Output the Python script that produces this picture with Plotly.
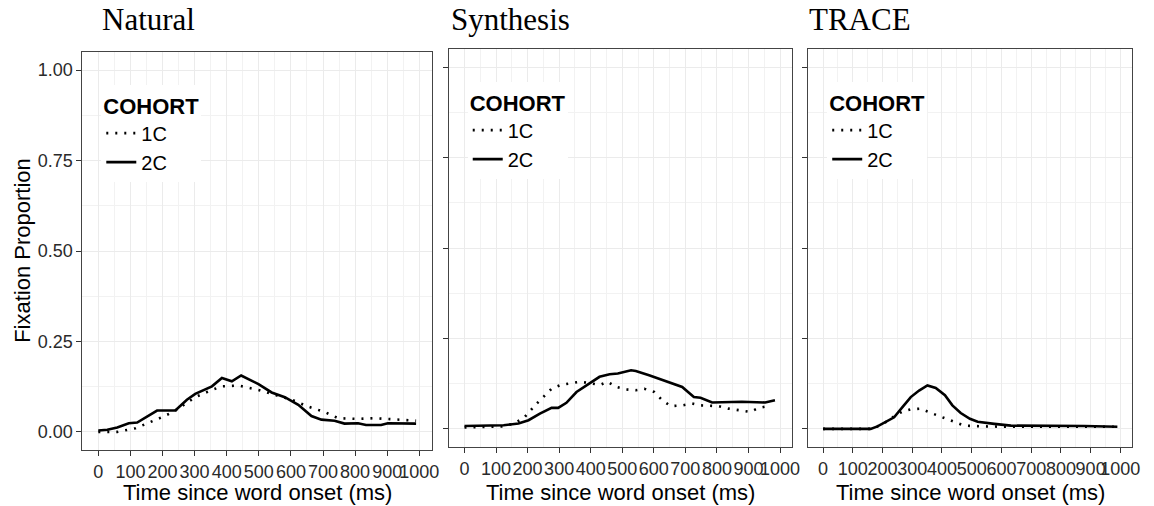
import plotly.graph_objects as go

W, H = 1154, 506

# ---------------- data ----------------
nat_2c_t = [0, 28, 59, 95, 121, 147, 183, 240, 276, 302, 354, 385, 416, 445, 499, 540, 581, 623, 664, 695, 736, 767, 809, 834, 881, 902, 933, 990]
nat_2c_y = [0.004, 0.006, 0.012, 0.024, 0.026, 0.040, 0.059, 0.059, 0.089, 0.105, 0.126, 0.149, 0.140, 0.156, 0.132, 0.109, 0.096, 0.075, 0.044, 0.034, 0.031, 0.023, 0.024, 0.019, 0.019, 0.024, 0.023, 0.023]
nat_1c_t = [0, 59, 116, 168, 199, 235, 302, 354, 385, 437, 499, 540, 602, 654, 705, 747, 809, 860, 912, 990]
nat_1c_y = [0.0, 0.0, 0.010, 0.029, 0.041, 0.056, 0.096, 0.116, 0.126, 0.128, 0.116, 0.105, 0.089, 0.070, 0.055, 0.038, 0.036, 0.038, 0.036, 0.031]

syn_2c_t = [0, 50, 124, 171, 203, 239, 276, 297, 323, 355, 397, 428, 460, 486, 528, 543, 585, 638, 690, 727, 748, 785, 837, 879, 953, 984]
syn_2c_y = [0.008, 0.008, 0.010, 0.015, 0.024, 0.042, 0.058, 0.058, 0.072, 0.102, 0.125, 0.144, 0.151, 0.153, 0.162, 0.160, 0.148, 0.132, 0.116, 0.088, 0.086, 0.073, 0.075, 0.075, 0.073, 0.079]
syn_1c_t = [0, 30, 124, 155, 187, 229, 250, 276, 307, 334, 365, 397, 428, 454, 481, 512, 543, 570, 601, 627, 654, 690, 722, 748, 806, 837, 874, 906, 932, 963]
syn_1c_y = [0.004, 0.005, 0.007, 0.015, 0.029, 0.070, 0.088, 0.111, 0.122, 0.125, 0.130, 0.127, 0.121, 0.130, 0.116, 0.109, 0.107, 0.111, 0.102, 0.079, 0.063, 0.065, 0.070, 0.065, 0.063, 0.056, 0.052, 0.047, 0.058, 0.063]

tra_2c_t = [0, 160, 183, 211, 239, 267, 295, 323, 351, 379, 410, 435, 463, 494, 520, 576, 632, 879, 990]
tra_2c_y = [0.0, 0.0, 0.007, 0.019, 0.032, 0.060, 0.088, 0.106, 0.120, 0.113, 0.093, 0.065, 0.044, 0.028, 0.020, 0.014, 0.009, 0.008, 0.006]
tra_1c_t = [0, 160, 183, 211, 239, 267, 295, 329, 357, 391, 430, 475, 542, 621, 990]
tra_1c_y = [0.0, 0.0, 0.007, 0.019, 0.035, 0.048, 0.054, 0.056, 0.046, 0.035, 0.023, 0.009, 0.007, 0.006, 0.006]

panel_titles = ["Natural", "Synthesis", "TRACE"]
x_ticks = list(range(0, 1001, 100))
y_ticks = [0.0, 0.25, 0.5, 0.75, 1.0]
y_ticklabels = ["0.00", "0.25", "0.50", "0.75", "1.00"]
legend_title = "COHORT"

series = [
    (nat_1c_t, nat_1c_y, nat_2c_t, nat_2c_y),
    (syn_1c_t, syn_1c_y, syn_2c_t, syn_2c_y),
    (tra_1c_t, tra_1c_y, tra_2c_t, tra_2c_y),
]

# panel boxes in pixels: (left, right, top, bottom)
boxes = [(83, 435, 52, 450), (452, 798, 49, 447), (814, 1140, 49, 447)]
title_left = [101, 452, 813]

fig = go.Figure()
FONT = "Liberation Sans, Arial, sans-serif"
DOT = "2px,7px"

for i, (t1, y1, t2, y2) in enumerate(series):
    ax = "" if i == 0 else str(i + 1)
    leg = "legend" if i == 0 else f"legend{i + 1}"
    fig.add_trace(go.Scatter(x=t1, y=y1, mode="lines", name="1C",
                             line=dict(color="black", width=2.6, dash=DOT),
                             xaxis="x" + ax, yaxis="y" + ax, legend=leg))
    fig.add_trace(go.Scatter(x=t2, y=y2, mode="lines", name="2C",
                             line=dict(color="black", width=2.6),
                             xaxis="x" + ax, yaxis="y" + ax, legend=leg))

layout = dict(width=W, height=H, margin=dict(l=0, r=0, t=0, b=0),
              paper_bgcolor="white", plot_bgcolor="white",
              font=dict(family=FONT, color="#333333"), annotations=[])

for i, (l, r, t, b) in enumerate(boxes):
    ax = "" if i == 0 else str(i + 1)
    xa = dict(domain=[l / W, r / W], range=[-49.5, 1039.5], anchor="y" + ax,
              tickvals=x_ticks, ticktext=[str(v) for v in x_ticks], tickangle=0,
              ticks="outside", ticklen=5, tickcolor="#333333", tickwidth=1,
              tickfont=dict(size=18, color="#2a2a2a", family=FONT),
              showgrid=True, gridcolor="#EBEBEB", gridwidth=1.3,
              minor=dict(dtick=50, tick0=0, showgrid=True, gridcolor="#F2F2F2", gridwidth=0.8),
              showline=True, linecolor="#444444", linewidth=1.2, mirror=True,
              zeroline=False, fixedrange=True)
    ya = dict(domain=[1 - b / H, 1 - t / H], range=[-0.05, 1.05], anchor="x" + ax,
              tickvals=y_ticks, ticktext=y_ticklabels,
              ticks="outside", ticklen=5, tickcolor="#333333", tickwidth=1,
              tickfont=dict(size=18, color="#2a2a2a", family=FONT),
              showticklabels=(i == 0),
              showgrid=True, gridcolor="#EBEBEB", gridwidth=1.3,
              minor=dict(dtick=0.125, tick0=0, showgrid=True, gridcolor="#F2F2F2", gridwidth=0.8),
              showline=True, linecolor="#444444", linewidth=1.2, mirror=True,
              zeroline=False, fixedrange=True)
    layout["xaxis" + ax] = xa
    layout["yaxis" + ax] = ya
    leg = "legend" if i == 0 else f"legend{i + 1}"
    layout[leg] = dict(x=(l + 19) / W, y=1 - (t + 33) / H, xanchor="left", yanchor="top",
                       bgcolor="white", borderwidth=0,
                       title=dict(text=f"<b>{legend_title}</b>", font=dict(size=22, color="black", family=FONT)),
                       font=dict(size=20, color="black", family=FONT),
                       tracegroupgap=0, itemwidth=30)
    # panel title
    layout["annotations"].append(dict(text=panel_titles[i], x=title_left[i] / W, y=1 - 19 / H,
                                      xref="paper", yref="paper", xanchor="left", yanchor="middle",
                                      showarrow=False,
                                      font=dict(family="Liberation Serif, Times New Roman, serif", size=31, color="black")))
    # x-axis title
    layout["annotations"].append(dict(text="Time since word onset (ms)", x=(l + r) / 2 / W, y=1 - 492 / H,
                                      xref="paper", yref="paper", xanchor="center", yanchor="middle",
                                      showarrow=False, font=dict(family=FONT, size=22, color="black")))

layout["annotations"].append(dict(text="Fixation Proportion", x=22 / W, y=1 - 250 / H,
                                  xref="paper", yref="paper", xanchor="center", yanchor="middle",
                                  textangle=-90, showarrow=False,
                                  font=dict(family=FONT, size=22, color="black")))

fig.update_layout(**layout)
fig.write_html("out.html")
